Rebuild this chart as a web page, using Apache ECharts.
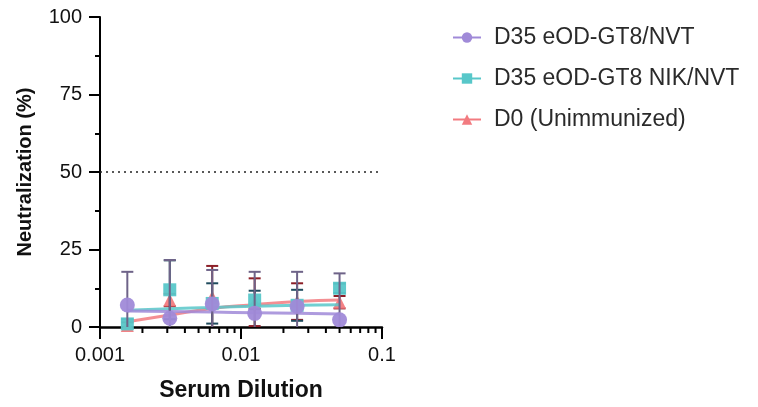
<!DOCTYPE html>
<html>
<head>
<meta charset="utf-8">
<script src="https://cdn.jsdelivr.net/npm/echarts@6/dist/echarts.min.js"></script>
<style>html,body{margin:0;padding:0;background:#fff}#c{width:758px;height:407px}</style>
</head>
<body>
<div id="c"></div>
<script>
const seriesNames = ['D35 eOD-GT8/NVT', 'D35 eOD-GT8 NIK/NVT', 'D0 (Unimmunized)'];
const dilutions = [0.0015625, 0.003125, 0.00625, 0.0125, 0.025, 0.05];
const nvtMean = [7.1, 2.8, 7.4, 4.4, 6.6, 2.3];
const nvtSD = [10.7, 18.8, 11.0, 13.4, 11.2, 15.0];
const nikMean = [1.0, 12.0, 7.6, 8.7, 7.0, 12.5];
const nikSD = [1.5, 9.5, 6.5, 3.0, 5.0, 1.5];
const d0Mean = [0.5, 8.7, 9.7, 8.0, 8.2, 8.0];
const d0SD = [1.0, 2.0, 10.0, 7.7, 5.9, 2.0];
const nvtFit = [5.2, 5.0, 4.8, 4.6, 4.4, 4.2];
const nikFit = [5.4, 5.9, 6.3, 6.7, 7.0, 7.2];
const d0Fit = [1.7, 3.9, 6.0, 7.2, 8.2, 8.7];
const xMajorTicks = [0.001, 0.01, 0.1];
const xTickLabels = ['0.001', '0.01', '0.1'];
const xMinorTicks = [0.002,0.003,0.004,0.005,0.006,0.007,0.008,0.009,0.02,0.03,0.04,0.05,0.06,0.07,0.08,0.09];
const yTicks = [0, 25, 50, 75, 100];
const thresholdY = 50;

const FONT = 'Liberation Sans, Arial, sans-serif';
const colors = ['#a08ad8', '#58c7c9', '#f27b80'];
const errColors = ['#6e6388', '#1f4b5d', '#8c1e27'];
const symbols = ['circle', 'rect', 'triangle'];
const sizes = [15, 13, 13];
const means = [nvtMean, nikMean, d0Mean];
const sds = [nvtSD, nikSD, d0SD];
const fits = [nvtFit, nikFit, d0Fit];

const series = [];
seriesNames.forEach((n, i) => {
  series.push({
    name: n, type: 'line', data: [], symbol: symbols[i], symbolSize: 12,
    itemStyle: {color: colors[i]}, lineStyle: {color: colors[i], width: 3}
  });
});
[2, 1, 0].forEach((i) => {
  series.push({
    name: seriesNames[i], type: 'line', smooth: true, symbol: 'none',
    data: dilutions.map((d, k) => [d, fits[i][k]]),
    lineStyle: {color: colors[i], width: 3, opacity: 0.85}, z: 2 + (2 - i) * 3,
    silent: true
  });
  series.push({
    name: seriesNames[i], type: 'custom', clip: false, z: 3 + (2 - i) * 3,
    data: dilutions.map((d, k) => [d, means[i][k], Math.max(0, means[i][k] - sds[i][k]), means[i][k] + sds[i][k]]),
    renderItem: function (params, api) {
      const x = api.value(0);
      const lo = api.coord([x, api.value(2)]);
      const hi = api.coord([x, api.value(3)]);
      const hw = 6;
      const st = {stroke: errColors[i], lineWidth: 2};
      const children = [
        {type: 'line', shape: {x1: lo[0], y1: lo[1], x2: hi[0], y2: hi[1]}, style: st},
        {type: 'line', shape: {x1: hi[0] - hw, y1: hi[1], x2: hi[0] + hw, y2: hi[1]}, style: st}
      ];
      if (api.value(2) > 0) children.push({type: 'line', shape: {x1: lo[0] - hw, y1: lo[1], x2: lo[0] + hw, y2: lo[1]}, style: st});
      return {type: 'group', children: children};
    }
  });
  series.push({
    name: seriesNames[i], type: 'scatter', clip: false, z: 4 + (2 - i) * 3,
    symbol: symbols[i], symbolSize: sizes[i],
    data: dilutions.map((d, k) => [d, means[i][k]]),
    itemStyle: {color: colors[i], opacity: 0.95}
  });
});
series.push({
  type: 'custom', clip: false, z: 20, silent: true,
  data: xMinorTicks.map(v => [v, 0]),
  renderItem: function (params, api) {
    const p = api.coord([api.value(0), 0]);
    return {type: 'line', shape: {x1: p[0], y1: p[1], x2: p[0], y2: p[1] + 6}, style: {stroke: '#000', lineWidth: 2}};
  }
});
series.push({
  type: 'line', data: [], silent: true,
  markLine: {
    silent: true, symbol: 'none', label: {show: false},
    lineStyle: {type: [2, 4], color: '#222', width: 1.5},
    data: [{yAxis: thresholdY}]
  }
});

const chart = echarts.init(document.getElementById('c'), null, {renderer: 'canvas'});
chart.setOption({
  animation: false,
  backgroundColor: '#fff',
  grid: {left: 100, top: 17, width: 282, height: 310, containLabel: false},
  legend: {
    data: seriesNames, orient: 'vertical', left: 447, top: 21, itemGap: 18,
    itemWidth: 28, itemHeight: 13,
    textStyle: {fontSize: 23, fontFamily: FONT, color: '#2a2a2a', padding: [0, 0, 0, 8]}
  },
  xAxis: {
    type: 'log', logBase: 10, min: 0.001, max: 0.1,
    name: 'Serum Dilution', nameLocation: 'middle', nameGap: 52,
    nameTextStyle: {fontSize: 23, fontWeight: 'bold', fontFamily: FONT, color: '#111'},
    axisLine: {lineStyle: {color: '#000', width: 2.5}},
    axisTick: {length: 12, lineStyle: {color: '#000', width: 2}},
    axisLabel: {fontSize: 20, fontFamily: FONT, color: '#111', margin: 18,
      formatter: function (v) { const k = xMajorTicks.findIndex(t => Math.abs(Math.log10(t) - Math.log10(v)) < 1e-6); return k >= 0 ? xTickLabels[k] : ''; }},
    splitLine: {show: false}
  },
  yAxis: {
    type: 'value', min: 0, max: 100, interval: 25,
    name: 'Neutralization (%)', nameLocation: 'middle', nameGap: 65,
    nameTextStyle: {fontSize: 20, fontWeight: 'bold', fontFamily: FONT, color: '#111'},
    axisLine: {show: true, lineStyle: {color: '#000', width: 2}},
    axisTick: {show: true, length: 11, lineStyle: {color: '#000', width: 2}},
    minorTick: {show: true, splitNumber: 2, length: 5, lineStyle: {color: '#000', width: 2}},
    axisLabel: {fontSize: 20, fontFamily: FONT, color: '#111', margin: 18,
      formatter: function (v) { return yTicks.indexOf(v) >= 0 ? String(v) : ''; }},
    splitLine: {show: false}
  },
  series: series
});
</script>
</body>
</html>
